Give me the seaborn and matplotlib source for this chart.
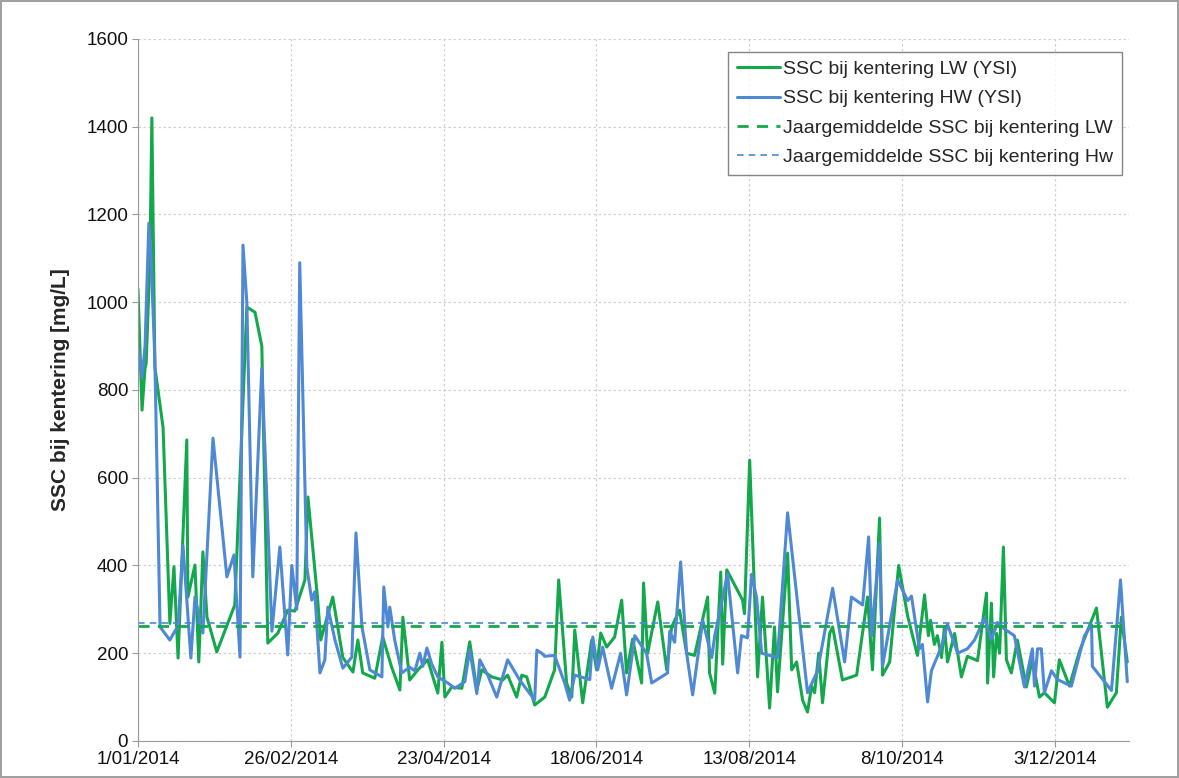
import pandas as pd
import numpy as np
import matplotlib
matplotlib.use("Agg")
import matplotlib.pyplot as plt
import seaborn as sns

# days after 1/01/2014 and SSC values
lw_days = [0.0, 1.5, 2.6, 3.0, 4.4, 5.1, 6.2, 9.2, 11.7, 13.2, 14.7, 17.9, 18.3, 20.9, 22.3,
           23.8, 25.3, 28.9, 35.5, 39.9, 42.9, 45.4, 47.6, 51.3, 54.9, 57.5, 61.2, 62.3,
           65.9, 67.0, 71.4, 75.1, 78.8, 80.6, 82.4, 86.8, 89.7, 93.0, 96.0, 97.1, 99.6,
           102.6, 106.2, 109.9, 111.4, 112.5, 115.0, 118.7, 121.6, 124.2, 126.0, 129.7,
           133.7, 135.5, 138.8, 140.7, 142.5, 145.4, 149.1, 152.7, 154.2, 157.1, 159.0,
           160.1, 163.0, 166.3, 168.1, 169.6, 171.8, 174.7, 177.3, 179.1, 181.3, 184.6,
           185.3, 186.8, 190.5, 193.8, 195.6, 198.5, 201.1, 204.0, 208.8, 209.5, 211.4,
           213.6, 214.3, 215.8, 221.6, 222.3, 224.2, 227.1, 228.9, 231.5, 233.3, 234.4,
           238.1, 239.6, 241.4, 243.6, 245.4, 246.9, 248.0, 249.5, 250.9, 253.5, 254.6,
           258.2, 263.4, 267.4, 269.2, 271.8, 272.9, 275.5, 278.8, 282.1, 285.7, 288.3,
           289.7, 290.5, 291.9, 293.0, 294.5, 295.6, 296.7, 299.3, 301.8, 304.0, 307.7,
           311.0, 311.4, 312.8, 313.6, 314.7, 315.8, 317.2, 318.3, 320.1, 322.3, 325.6,
           327.8, 330.4, 332.2, 335.9, 337.7, 341.4, 345.1, 351.3, 355.3, 358.6, 360.4,
           362.6]
lw_ssc = [1030, 754, 850, 860, 1100, 1420, 852, 715, 268, 397, 189, 686, 328, 401, 180,
          431, 282, 203, 310, 989, 977, 900, 223, 246, 298, 296, 367, 556,
          320, 230, 328, 190, 157, 230, 155, 143, 237, 168, 116, 282, 139,
          162, 185, 109, 225, 100, 123, 120, 226, 116, 162, 146,
          139, 150, 100, 150, 146, 82, 100, 162, 367, 132, 100,
          253, 87, 230, 162, 246, 214, 237, 321, 155, 232, 132,
          360, 200, 317, 162, 260, 298, 200, 195, 328, 155, 109,
          385, 175, 390, 321, 290, 640, 146, 328, 75, 260, 112,
          428, 162, 180, 93, 66, 125, 110, 200, 87, 245, 260,
          139, 150, 328, 162, 508, 150, 180, 400, 285, 195, 333,
          240, 275, 220, 240, 190, 260, 180, 245, 146, 193, 183,
          337, 132, 314, 146, 245, 200, 442, 185, 155, 230, 123,
          185, 100, 110, 87, 185, 125, 205, 303, 77, 110, 282,
          180]

hw_days = [0.0, 1.5, 2.6, 4.0, 4.8, 6.2, 8.1, 11.7, 13.6, 14.7, 16.5, 19.4, 20.9, 23.8,
           27.5, 32.6, 35.2, 37.4, 38.5, 39.9, 42.1, 45.4, 49.1, 52.0, 54.9, 56.4, 58.2,
           59.3, 61.9, 63.7, 64.8, 66.7, 68.5, 69.6, 72.2, 75.1, 78.4, 79.9, 82.1, 85.0,
           89.4, 90.1, 91.6, 92.3, 94.1, 96.7, 99.6, 101.5, 103.3, 104.4, 105.9, 107.7,
           109.9, 113.6, 116.1, 119.8, 121.6, 124.2, 125.3, 128.2, 131.5, 135.5, 139.9,
           145.4, 146.2, 148.0, 149.1, 152.7, 156.4, 158.2, 160.1, 165.6, 166.7, 168.5,
           170.3, 173.6, 176.9, 179.1, 182.1, 186.4, 188.3, 194.1, 194.9, 196.7, 198.9,
           201.1, 203.3, 207.0, 210.3, 211.4, 216.1, 219.8, 221.2, 223.4, 224.9, 226.7,
           228.6, 234.4, 238.1, 245.4, 249.1, 254.6, 259.0, 261.5, 265.6, 267.8, 268.9,
           270.0, 271.8, 272.9, 278.4, 282.1, 283.5, 286.4, 287.5, 289.4, 290.8, 294.5,
           296.7, 300.4, 304.0, 306.6, 310.3, 312.8, 315.0, 317.6, 321.2, 324.9, 327.8,
           328.6, 329.7, 331.1, 332.2, 334.8, 337.0, 342.1, 346.9, 349.5, 349.8, 356.8,
           360.1, 362.6]
hw_ssc = [900, 829, 900, 1180, 1100, 870, 260, 230, 251, 260, 446, 189, 328, 246,
          690, 374, 424, 191, 1130, 1000, 374, 850, 250, 442, 196, 400, 300,
          1090, 396, 321, 340, 155, 185, 305, 230, 166, 191, 474, 260, 162,
          146, 351, 260, 305, 230, 155, 168, 160, 200, 170, 212, 175,
          146, 132, 120, 135, 208, 108, 185, 150, 100, 185, 139,
          93, 207, 200, 193, 195, 132, 93, 150, 140, 237, 162,
          214, 120, 200, 105, 240, 200, 132, 155, 250, 225, 408,
          200, 105, 275, 190, 240, 380, 155, 240, 235, 380, 328,
          200, 190, 520, 110, 160, 348, 180, 328, 310, 465, 240,
          320, 450, 170, 367, 320, 330, 210, 220, 89, 160, 215,
          266, 200, 210, 230, 280, 230, 270, 255, 240, 123, 210,
          125, 210, 210, 110, 160, 140, 125, 240, 265, 170, 115,
          367, 135]

lw_mean = 262
hw_mean = 268

labels = ["SSC bij kentering LW (YSI)", "SSC bij kentering HW (YSI)",
          "Jaargemiddelde SSC bij kentering LW", "Jaargemiddelde SSC bij kentering Hw"]

start = pd.Timestamp("2014-01-01")
lw = pd.DataFrame({"date": start + pd.to_timedelta(lw_days, unit="D"), "ssc": lw_ssc})
hw = pd.DataFrame({"date": start + pd.to_timedelta(hw_days, unit="D"), "ssc": hw_ssc})
span = [start, start + pd.Timedelta(days=363)]

sns.set_style("white")
plt.rcParams["font.family"] = ["Liberation Sans", "DejaVu Sans"]

green = "#14a84c"
blue = "#4f88d4"

fig = plt.figure(figsize=(11.79, 7.78), dpi=100)
fig.patch.set_edgecolor("#a0a0a0")
fig.patch.set_linewidth(1.5)
ax = fig.add_axes([0.117, 0.0476, 0.841, 0.9024])

sns.lineplot(data=lw, x="date", y="ssc", color=green, lw=2.2, sort=False, ax=ax)
sns.lineplot(data=hw, x="date", y="ssc", color=blue, lw=2.2, sort=False, ax=ax)
ax.plot(span, [lw_mean, lw_mean], color=green, lw=2.0, ls=(0, (4, 3)))
ax.plot(span, [hw_mean, hw_mean], color=blue, lw=1.2, ls=(0, (4, 3)))

ax.set_ylim(0, 1600)
ax.set_yticks(range(0, 1601, 200))
ax.set_xlim(start, start + pd.Timedelta(days=363.4))
ticks = [start + pd.Timedelta(days=56 * i) for i in range(7)]
ax.set_xticks(ticks)
ax.set_xticklabels([f"{t.day}/{t.month:02d}/{t.year}" for t in ticks])

ax.grid(True, color="#d0d0d0", ls=(0, (2, 2)), lw=0.9)
for s in ["top", "right"]:
    ax.spines[s].set_visible(False)
for s in ["left", "bottom"]:
    ax.spines[s].set_color("#999999")
ax.tick_params(axis="both", labelsize=13.5, length=4, color="#999999", direction="out",
               left=True, bottom=True, pad=3, labelcolor="#111111")
ax.set_xlabel("")
ax.set_ylabel("SSC bij kentering [mg/L]", fontsize=15, fontweight="bold", labelpad=12)

handles = ax.get_lines()[:4]
leg = ax.legend(handles, labels, loc="upper right", bbox_to_anchor=(0.998, 0.99),
                fontsize=14, frameon=True, fancybox=False, handlelength=2.2,
                handletextpad=0.15, borderpad=0.45, labelspacing=0.6, borderaxespad=0.3)
leg.get_frame().set_edgecolor("#666666")
leg.get_frame().set_linewidth(1.0)

fig.savefig("out.png", dpi=100, edgecolor=fig.get_edgecolor())
